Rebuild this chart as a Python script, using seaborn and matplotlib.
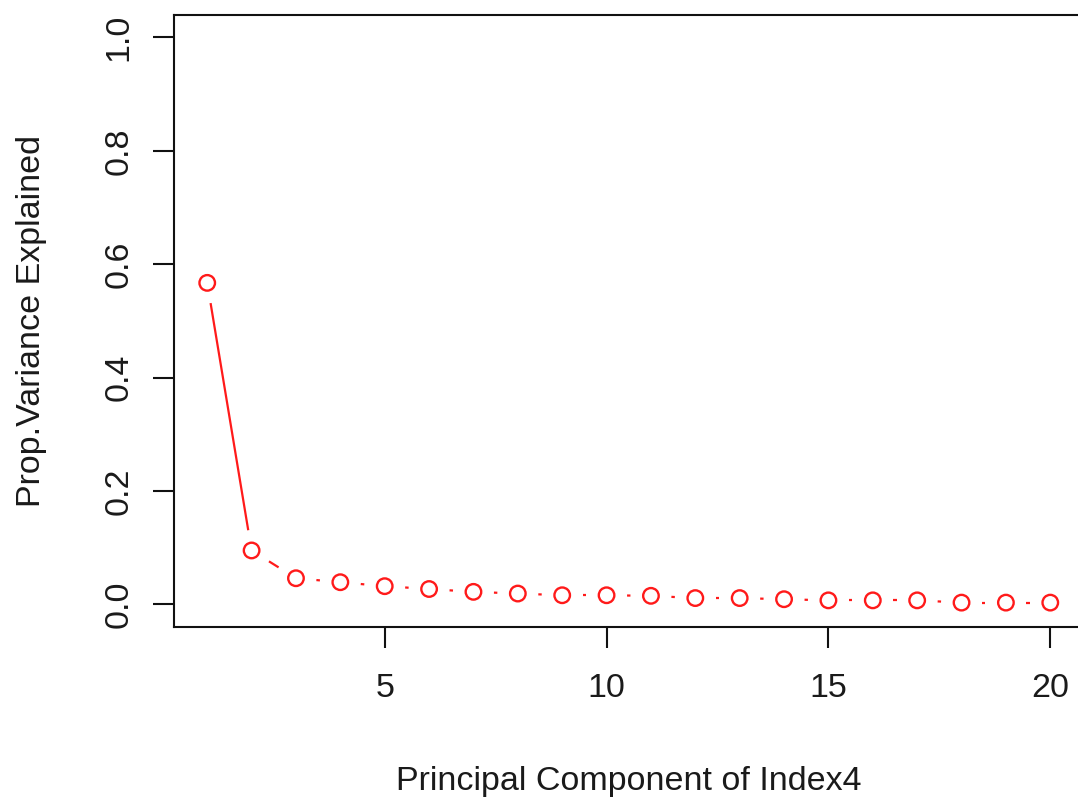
import numpy as np
import pandas as pd
import matplotlib
matplotlib.use("Agg")
import matplotlib.pyplot as plt
import seaborn as sns

# Proportion of variance explained by each principal component
components = list(range(1, 21))
prop_var = [0.567, 0.095, 0.046, 0.039, 0.032, 0.027, 0.022, 0.019, 0.016, 0.016,
            0.015, 0.011, 0.011, 0.009, 0.007, 0.007, 0.007, 0.003, 0.003, 0.003]

x_ticks = [5, 10, 15, 20]
y_ticks = [0.0, 0.2, 0.4, 0.6, 0.8, 1.0]
y_tick_labels = ["0.0", "0.2", "0.4", "0.6", "0.8", "1.0"]

df = pd.DataFrame({"pc": components, "pve": prop_var})

sns.set_theme(style="white")
plt.rcParams["font.family"] = ["Liberation Sans", "DejaVu Sans"]

W, H, DPI = 1078, 802, 100
fig = plt.figure(figsize=(W / DPI, H / DPI), dpi=DPI)
ax = fig.add_axes([173.5 / W, 175 / H, (1084 - 173.5) / W, (627 - 14.7) / H])

# axis ranges with 4% padding on each side
xr = (min(components), max(components))
xpad = 0.04 * (xr[1] - xr[0])
ax.set_xlim(xr[0] - xpad, xr[1] + xpad)
ax.set_ylim(-0.04, 1.04)

RED = "#ff1a1a"

# points as open circles
sns.scatterplot(data=df, x="pc", y="pve", ax=ax, marker="o", s=125,
                facecolors="none", edgecolors=RED, linewidth=1.7, zorder=3)

# connecting segments, shortened at both ends so they stop short of the circles
fig.canvas.draw()
gap = 20.5  # pixels
pts = ax.transData.transform(np.column_stack([components, prop_var]))
inv = ax.transData.inverted()
for (x0, y0), (x1, y1) in zip(pts[:-1], pts[1:]):
    d = np.hypot(x1 - x0, y1 - y0)
    if d <= 2 * gap:
        continue
    ux, uy = (x1 - x0) / d, (y1 - y0) / d
    a = inv.transform((x0 + ux * gap, y0 + uy * gap))
    b = inv.transform((x1 - ux * gap, y1 - uy * gap))
    ax.plot([a[0], b[0]], [a[1], b[1]], color=RED, lw=1.6, solid_capstyle="butt", zorder=2)

# frame and ticks
for s in ax.spines.values():
    s.set_visible(True)
    s.set_color("#111111")
    s.set_linewidth(1.5)

ax.set_xticks(x_ticks)
ax.set_xticklabels([str(t) for t in x_ticks])
ax.set_yticks(y_ticks)
ax.set_yticklabels(y_tick_labels, rotation=90, va="center")
ax.tick_params(axis="both", which="major", direction="out", length=15, width=1.5,
               color="#111111", labelsize=24.5, labelcolor="#1a1a1a",
               left=True, bottom=True)
ax.tick_params(axis="x", pad=18)
ax.tick_params(axis="y", pad=13)

ax.set_xlabel("Principal Component of Index4", fontsize=24.5, color="#1a1a1a", labelpad=45)
ax.set_ylabel("Prop.Variance Explained", fontsize=24.5, color="#1a1a1a", labelpad=41)
ax.grid(False)

fig.savefig("out.png", dpi=DPI, facecolor="white")
